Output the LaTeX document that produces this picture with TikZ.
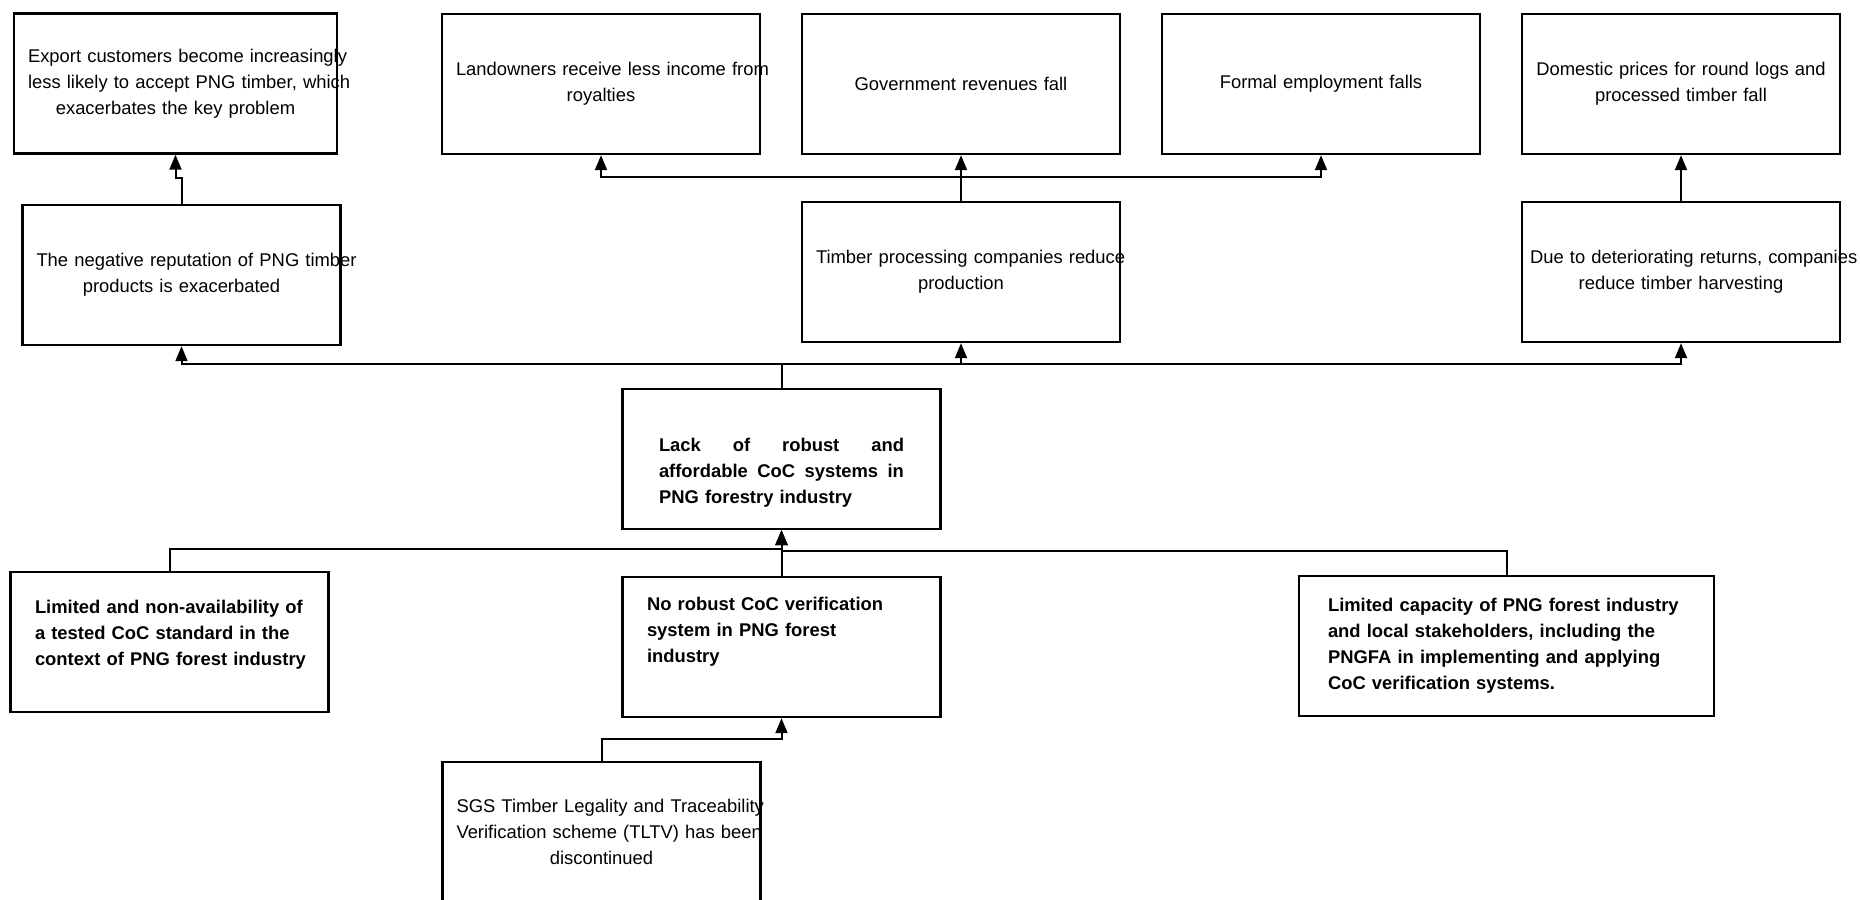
\documentclass[tikz,border=0pt]{standalone}
\usepackage{fontspec}
\setmainfont{Liberation Sans}
\usetikzlibrary{positioning, arrows.meta}

\begin{document}
\begin{tikzpicture}[
    x=0.5pt, y=-0.5pt, % one unit per pixel, y downwards
    node distance=22.8pt and 19.8pt,
    >={Triangle[length=7.5pt,width=6pt]},
    % Styles
    effect/.style={ % Consequence boxes
        rectangle,
        draw,
        line width=1.2pt,
        minimum width=159pt,
        minimum height=70pt,
        inner xsep=7pt,
        text width=145pt,
        align=center,
        font=\fontsize{9.2pt}{13pt}\selectfont
    },
    cause/.style={ % Problem and cause boxes
        effect,
        inner xsep=12pt,
        text width=134.5pt,
        align=left,
        font=\fontsize{9.2pt}{13pt}\selectfont\bfseries
    },
    arrow/.style={
        ->,
        line width=1pt
    }
]
    \useasboundingbox (0,0) rectangle (1860,900);

    % Effects, top row
    \node[effect, minimum width=161.5pt, text width=147.5pt] (export) at (175.5,83.5) {\mbox{Export customers become increasingly}\\ \mbox{less likely to accept PNG timber, which}\\ exacerbates the key problem};
    \node[effect] (land) at (601,84) {\mbox{Landowners receive less income from}\\ royalties};
    \node[effect, right=of land] (gov) {Government revenues fall};
    \node[effect, right=of gov] (emp) {Formal employment falls};
    \node[effect, right=of emp] (dom) {\mbox{Domestic prices for round logs and}\\ processed timber fall};

    % Effects, second row
    \node[effect] (neg) at (181.5,275) {\mbox{The negative reputation of PNG timber}\\ products is exacerbated};
    \node[effect, below=of gov] (timber) {\mbox{Timber processing companies reduce}\\ production};
    \node[effect, below=of dom, inner xsep=4pt, text width=151pt] (due) {\mbox{Due to deteriorating returns, companies}\\ reduce timber harvesting};

    % Key problem and causes
    \node[cause, inner xsep=18pt, text width=122.5pt, text height=20.7pt] (lack) at (781.5,459) {Lack \hfill of \hfill robust \hfill and\\ affordable \hfill CoC \hfill systems \hfill in\\ PNG forestry industry};
    \node[cause, text depth=34.9pt] (lim) at (169.5,642) {\mbox{Limited and non-availability of}\\ a tested CoC standard in the\\ \mbox{context of PNG forest industry}};
    \node[cause, below=of lack, text depth=43.4pt] (norob) {No robust CoC verification\\ system in PNG forest\\ industry};
    \node[cause, inner xsep=14.5pt, text width=178.5pt] (cap) at (1506.5,646) {\mbox{Limited capacity of PNG forest industry}\\ and local stakeholders, including the\\ PNGFA in implementing and applying\\ CoC verification systems.};
    \node[effect] (sgs) at (601.5,832) {\mbox{SGS Timber Legality and Traceability}\\ \mbox{Verification scheme (TLTV) has been}\\ discontinued};

    % Connectors
    \draw[arrow] (lack.north) -- ++(0,12pt) -| (neg.south);
    \draw[arrow] (lack.north) -- ++(0,12pt) -| (timber.south);
    \draw[arrow] (lack.north) -- ++(0,12pt) -| (due.south);
    \draw[arrow] (timber.north) -- ++(0,12pt) -| (land.south);
    \draw[arrow] (timber.north) -- (gov.south);
    \draw[arrow] (timber.north) -- ++(0,12pt) -| (emp.south);
    \draw[arrow] (neg.north) -- ++(0,13pt) -| (export.south);
    \draw[arrow] (due.north) -- (dom.south);
    \draw[arrow] (lim.north) -- ++(0,11pt) -| (lack.south);
    \draw[arrow] (norob.north) -- (lack.south);
    \draw[arrow] (cap.north) -- ++(0,12pt) -| (lack.south);
    \draw[arrow] (sgs.north) -- ++(0,11pt) -| (norob.south);
\end{tikzpicture}
\end{document}
